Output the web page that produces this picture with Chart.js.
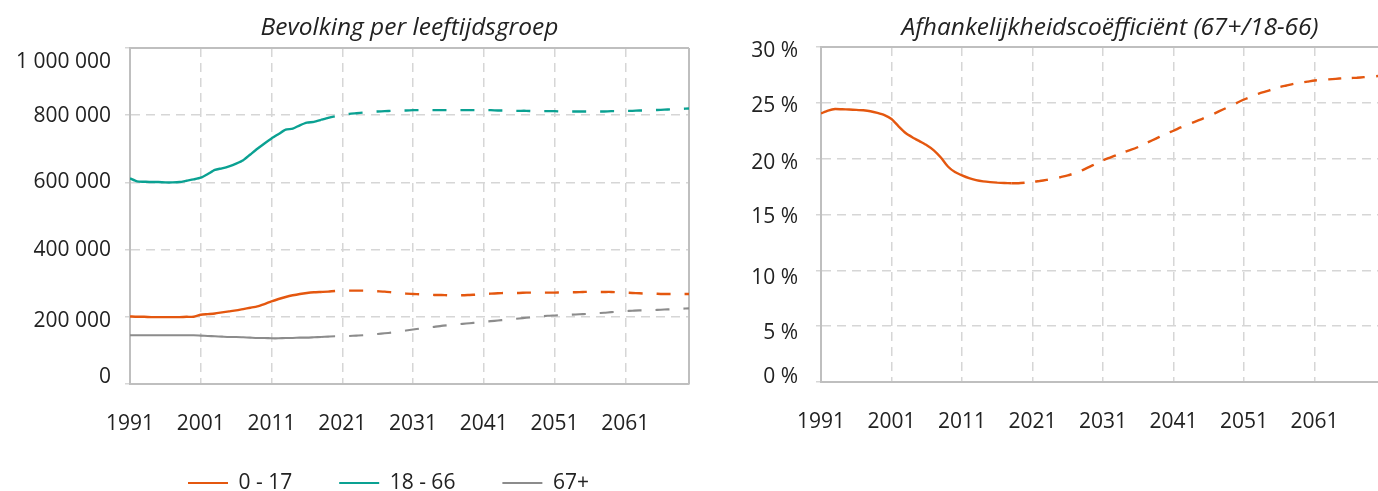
<!DOCTYPE html>
<html><head><meta charset="utf-8">
<script src="https://cdn.jsdelivr.net/npm/chart.js@4/dist/chart.umd.min.js"></script>
<style>
html,body{margin:0;padding:0;background:#fff;overflow:hidden;width:1378px;height:491px;position:relative;}
canvas{position:absolute;top:0;}
#c1{left:0;}
#c2{left:700px;}
</style></head><body>
<canvas id="c1" width="700" height="491"></canvas>
<canvas id="c2" width="678" height="491"></canvas>
<script>
// ---------- data ----------
const years = [];
for (let y = 1991; y <= 2070; y++) years.push(y);
const projectionStart = 2018;

const seriesNames = ['0 - 17', '18 - 66', '67+'];
const titleLeft = 'Bevolking per leeftijdsgroep';
const titleRight = 'Afhankelijkheidscoëfficiënt (67+/18-66)';
const xTickYears = [1991, 2001, 2011, 2021, 2031, 2041, 2051, 2061];
const popTicks = [0, 200000, 400000, 600000, 800000, 1000000];
const ratioTicks = [0, 5, 10, 15, 20, 25, 30];

const pop0_17 = [
  201000,200000,200000,199000,199000,199000,199000,199000,200000,200000,
  206000,208000,210000,213000,216000,219000,223000,227000,231000,238000,
  246000,253000,259000,264000,268000,271000,273000,274000,275000,277000,
  278000,278000,278000,278000,277000,276000,275000,273000,271000,269000,
  268000,267000,266000,265000,265000,264000,264000,264000,265000,266000,
  268000,269000,270000,271000,271000,271000,272000,272000,272000,272000,
  272000,273000,273000,273000,274000,274000,274000,274000,274000,273000,
  272000,271000,270000,269000,269000,268000,268000,268000,268000,268000
];
const pop18_66 = [
  612000,603000,602000,601000,601000,600000,600000,601000,605000,609000,
  614000,625000,637000,642000,648000,656000,666000,683000,700000,716000,
  731000,744000,757000,760000,770000,778000,780000,786000,792000,797000,
  801000,804000,806000,808000,810000,811000,812000,813000,814000,814000,
  815000,815000,815000,815000,815000,815000,815000,815000,815000,815000,
  815000,815000,814000,814000,813000,813000,813000,812000,812000,812000,
  812000,811000,811000,811000,811000,811000,811000,811000,812000,812000,
  813000,813000,814000,814000,815000,816000,817000,818000,819000,820000
];
const pop67plus = [
  145000,145000,145000,145000,145000,145000,145000,145000,145000,145000,
  144000,143000,142000,141000,140000,140000,139000,138000,137000,137000,
  136000,136000,137000,137000,138000,138000,139000,140000,141000,142000,
  142000,143000,144000,145000,147000,149000,151000,153000,155000,159000,
  162000,165000,168000,170000,173000,175000,177000,179000,181000,183000,
  185000,187000,189000,191000,193000,195000,197000,199000,201000,203000,
  204000,205000,206000,207000,208000,209000,211000,212000,214000,215000,
  217000,218000,219000,219000,220000,221000,222000,223000,224000,225000
];
const dependencyRatio = [
  24.05,24.3,24.45,24.42,24.4,24.37,24.33,24.25,24.1,23.9,
  23.55,22.9,22.3,21.9,21.55,21.2,20.75,20.1,19.3,18.8,
  18.5,18.25,18.08,17.97,17.9,17.85,17.82,17.8,17.8,17.85,
  17.92,18.0,18.1,18.2,18.35,18.5,18.7,18.95,19.25,19.55,
  19.85,20.1,20.35,20.6,20.8,21.05,21.35,21.65,21.95,22.25,
  22.5,22.8,23.05,23.3,23.55,23.8,24.1,24.4,24.7,25.0,
  25.3,25.55,25.8,26.0,26.2,26.4,26.55,26.7,26.8,26.9,
  27.0,27.05,27.1,27.15,27.2,27.22,27.25,27.3,27.35,27.4
];

// ---------- style ----------
const COL = { orange:'#E4570F', teal:'#0AA192', grey:'#8C8C8C' };
const FONT = '"Open Sans", Lato, sans-serif';
const TXT = '#222';
const GRID = '#d6d6d6';
const AXIS = '#bfbfbf';
const TICK_SIZE = 21;
const TITLE_SIZE = 24.5;

function part(values, solid) {
  const out = [];
  years.forEach((yr, i) => {
    if (solid ? yr <= projectionStart : yr >= projectionStart) out.push({x: yr, y: values[i]});
  });
  return out;
}
function lineSet(label, values, color, solid, dash, width) {
  return {
    label, data: part(values, solid), borderColor: color, backgroundColor: color,
    borderWidth: width || 2.4, pointRadius: 0, tension: 0.2, fill: false,
    borderDash: solid ? [] : dash
  };
}
const spaced = v => String(v).replace(/\B(?=(\d{3})+(?!\d))/g, ' ');

const framePlugin = {
  id: 'frame',
  beforeDatasetsDraw(chart, args, opts) {
    const {ctx, chartArea: a} = chart;
    ctx.save();
    ctx.strokeStyle = AXIS; ctx.lineWidth = 2;
    ctx.beginPath();
    ctx.moveTo(a.left, a.top); ctx.lineTo(a.right, a.top);
    if (opts.right) { ctx.moveTo(a.right, a.top); ctx.lineTo(a.right, a.bottom); }
    ctx.stroke();
    ctx.restore();
  }
};
// places title / legend blocks and nudges y tick labels like the reference
const placePlugin = {
  id: 'place',
  afterLayout(chart, args, opts) {
    const T = chart.titleBlock;
    if (T && opts.titleCx != null) {
      const w = T.right - T.left;
      T.left = opts.titleCx - w / 2; T.right = T.left + w;
    }
    const L = chart.legend;
    if (L && L.options.display && opts.legendX != null) {
      const pad = L.options.labels.padding;
      L.left = opts.legendX - pad; L.right = L.left + 800;
      L.top = opts.legendY - pad - TICK_SIZE / 2; L.bottom = chart.height + 5;
    }
    const s = chart.scales.y;
    if (s && opts.yLabelShift && !s.__wrapped && typeof s._computeLabelItems === 'function') {
      const orig = s._computeLabelItems;
      const shift = opts.yLabelShift;
      s._computeLabelItems = function (ca) {
        const items = orig.call(this, ca);
        items.forEach((it, i) => {
          if (shift[i] && it.options && it.options.translation) {
            const t = it.options.translation;
            it.options.translation = [t[0], t[1] + shift[i]];
          }
        });
        return items;
      };
      s.__wrapped = true;
    }
  }
};

function xScale(totalH) {
  return {
    type: 'linear', min: 1991, max: 2070,
    afterBuildTicks: s => { s.ticks = xTickYears.map(v => ({value: v})); },
    afterFit: s => {
      const L = s.chart.legend;
      const lh = (L && L.options.display) ? L.height : 0;
      s.height = totalH - lh;
    },
    grid: { color: GRID, lineWidth: 1.5, tickLength: 0 },
    border: { color: AXIS, width: 2, dash: [9, 6] },
    ticks: { color: TXT, font: {family: FONT, size: TICK_SIZE}, padding: 27, maxRotation: 0,
             callback: v => String(v) }
  };
}
function yScale(w, ticks, cb, pad) {
  return {
    min: ticks[0], max: ticks[ticks.length - 1],
    afterBuildTicks: s => { s.ticks = ticks.map(v => ({value: v})); },
    afterFit: s => { s.width = w; },
    grid: { color: GRID, lineWidth: 1.5, tickLength: 5 },
    border: { color: AXIS, width: 2, dash: [9, 6] },
    ticks: { color: TXT, font: {family: FONT, size: TICK_SIZE}, padding: pad, callback: cb }
  };
}
function titleOpts(text, top, bottom) {
  return { display: true, text, color: TXT,
    font: {family: FONT, size: TITLE_SIZE, style: 'italic', weight: 'normal', lineHeight: 1.2},
    padding: {top, bottom} };
}

// ---------- left chart ----------
new Chart(document.getElementById('c1'), {
  type: 'line',
  data: { datasets: [
    lineSet(seriesNames[0], pop0_17, COL.orange, true),
    lineSet(seriesNames[1], pop18_66, COL.teal, true),
    lineSet(seriesNames[2], pop67plus, COL.grey, true, null, 2.1),
    lineSet(seriesNames[0], pop0_17, COL.orange, false, [14, 14]),
    lineSet(seriesNames[1], pop18_66, COL.teal, false, [14, 14]),
    lineSet(seriesNames[2], pop67plus, COL.grey, false, [14, 14], 2.1)
  ]},
  options: {
    responsive: false, animation: false,
    layout: { padding: {left: 0, right: 700 - 689, top: 0, bottom: 0} },
    scales: { x: xScale(107), y: yScale(130, popTicks, v => spaced(v), 14) },
    plugins: {
      title: titleOpts(titleLeft, 13.3, 5.3),
      tooltip: { enabled: false },
      frame: { right: true },
      place: { titleCx: 409.5, legendX: 188, legendY: 483, yLabelShift: [-6.5, 4.3, 0, -0.6, 0.7, 14.5] },
      legend: {
        position: 'bottom', align: 'start', maxHeight: 30,
        labels: {
          color: TXT, font: {family: FONT, size: TICK_SIZE}, boxWidth: 40, boxHeight: 2, padding: 47,
          filter: item => item.datasetIndex < 3,
          generateLabels: chart => chart.data.datasets.map((d, i) => ({
            text: d.label, fillStyle: d.borderColor, strokeStyle: d.borderColor,
            lineWidth: 0, hidden: false, datasetIndex: i, fontColor: TXT
          }))
        }
      }
    }
  },
  plugins: [framePlugin, placePlugin]
});

// ---------- right chart ----------
new Chart(document.getElementById('c2'), {
  type: 'line',
  data: { datasets: [
    lineSet('ratio', dependencyRatio, COL.orange, true),
    lineSet('ratio', dependencyRatio, COL.orange, false, [13, 11])
  ]},
  options: {
    responsive: false, animation: false,
    layout: { padding: {left: 0, right: 0, top: 0, bottom: 0} },
    scales: { x: xScale(109), y: yScale(121, ratioTicks, v => v + ' %', 18) },
    plugins: {
      title: titleOpts(titleRight, 13, 4.6),
      tooltip: { enabled: false },
      legend: { display: false },
      frame: { right: false },
      place: { titleCx: 410, yLabelShift: [-5, 7, 8, 3, 4, 3.5, 4] }
    }
  },
  plugins: [framePlugin, placePlugin]
});
</script>
</body></html>
